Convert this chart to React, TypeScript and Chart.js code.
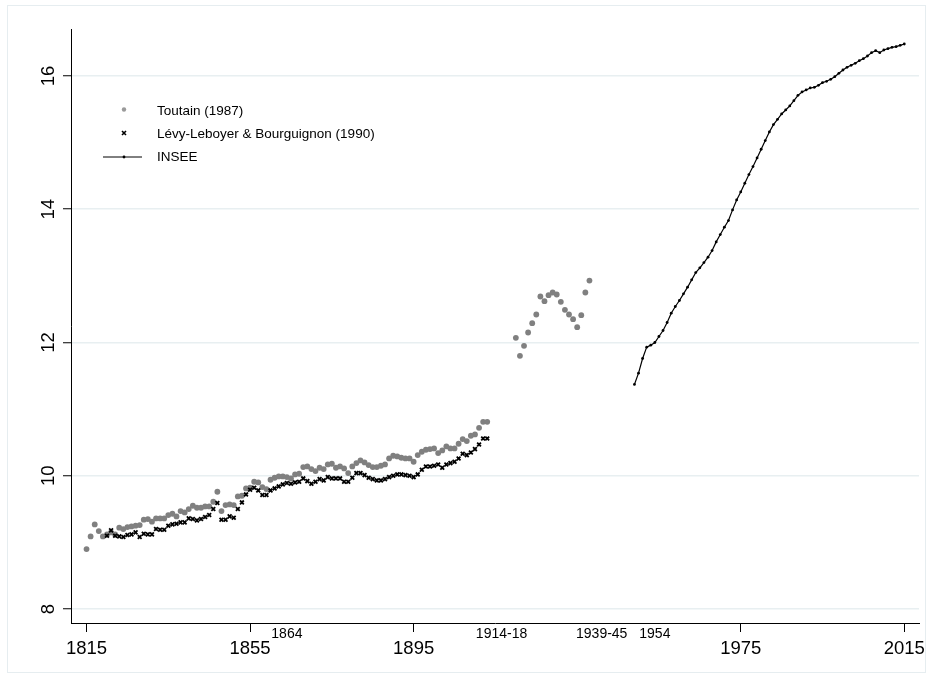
import React, { useEffect, useRef } from "react";
import { Chart, registerables } from "chart.js";

Chart.register(...registerables);

// Toutain (1987), annual, 1815-1913
const TOUTAIN_PRE_START = 1815;
const toutainPre = [
  8.9, 9.09, 9.27, 9.17, 9.09, 9.12, 9.15, 9.12, 9.22, 9.2,
  9.23, 9.24, 9.25, 9.26, 9.34, 9.35, 9.31, 9.36, 9.36, 9.36,
  9.41, 9.43, 9.39, 9.47, 9.45, 9.5, 9.55, 9.52, 9.52, 9.54,
  9.54, 9.61, 9.76, 9.47, 9.56, 9.57, 9.56, 9.69, 9.7, 9.81,
  9.82, 9.91, 9.9, 9.83, 9.8, 9.94, 9.97, 9.99, 9.99, 9.98,
  9.96, 10.02, 10.03, 10.13, 10.14, 10.1, 10.07, 10.12, 10.1, 10.17,
  10.18, 10.12, 10.14, 10.11, 10.04, 10.14, 10.19, 10.23, 10.2, 10.16,
  10.13, 10.13, 10.15, 10.17, 10.26, 10.3, 10.29, 10.27, 10.26, 10.26,
  10.21, 10.31, 10.36, 10.39, 10.4, 10.41, 10.34, 10.38, 10.44, 10.41,
  10.41, 10.48, 10.55, 10.52, 10.6, 10.62, 10.72, 10.81, 10.81,
];

// Toutain (1987), interwar years 1920-1938
const TOUTAIN_INTERWAR_START = 1920;
const toutainInterwar = [
  12.07, 11.8, 11.95, 12.15, 12.29, 12.42, 12.69, 12.62, 12.71, 12.75,
  12.72, 12.61, 12.49, 12.42, 12.35, 12.23, 12.41, 12.75, 12.93,
];

// Lévy-Leboyer & Bourguignon (1990), 1820-1913
const LEVY_START = 1820;
const levyLeboyer = [
  9.1, 9.18, 9.1, 9.09, 9.08, 9.11, 9.12, 9.15, 9.08, 9.13,
  9.12, 9.12, 9.2, 9.19, 9.19, 9.25, 9.27, 9.28, 9.3, 9.3,
  9.36, 9.35, 9.33, 9.35, 9.38, 9.41, 9.5, 9.59, 9.34, 9.34,
  9.39, 9.37, 9.5, 9.6, 9.72, 9.79, 9.82, 9.78, 9.71, 9.71,
  9.78, 9.81, 9.84, 9.87, 9.89, 9.88, 9.9, 9.91, 9.96, 9.92,
  9.88, 9.91, 9.95, 9.93, 9.98, 9.96, 9.96, 9.96, 9.91, 9.91,
  9.97, 10.04, 10.04, 10.01, 9.97, 9.95, 9.93, 9.93, 9.95, 9.98,
  10.0, 10.02, 10.02, 10.01, 10.0, 9.98, 10.02, 10.09, 10.14, 10.14,
  10.15, 10.17, 10.12, 10.17, 10.19, 10.21, 10.26, 10.33, 10.31, 10.35,
  10.4, 10.47, 10.56, 10.56,
];

// INSEE, 1949-2015
const INSEE_START = 1949;
const insee = [
  11.37, 11.54, 11.76, 11.93, 11.96, 12.0, 12.09, 12.18, 12.3, 12.44,
  12.54, 12.63, 12.73, 12.83, 12.94, 13.05, 13.12, 13.2, 13.28, 13.38,
  13.51, 13.62, 13.73, 13.83, 13.99, 14.14, 14.26, 14.39, 14.52, 14.64,
  14.77, 14.9, 15.03, 15.16, 15.27, 15.35, 15.43, 15.49, 15.55, 15.63,
  15.71, 15.76, 15.79, 15.82, 15.83, 15.86, 15.9, 15.92, 15.95, 15.99,
  16.04, 16.09, 16.13, 16.16, 16.19, 16.23, 16.26, 16.3, 16.35, 16.38,
  16.35, 16.39, 16.41, 16.43, 16.44, 16.46, 16.48,
];

const xMajorTicks = [1815, 1855, 1895, 1975, 2015];
const xMinorLabels = ["1864", "1914-18", "1939-45", "1954"];
const xMinorAt = [1864, 1916.5, 1941, 1954];
const yTicks = [8, 10, 12, 14, 16];
const seriesNames = ["Toutain (1987)", "Lévy-Leboyer & Bourguignon (1990)", "INSEE"];

const FONT = "'Liberation Sans', Arial, Helvetica, sans-serif";
const GRAY = "#808080";
const GRID = "#E8EFF1";

const toPoints = (start: number, values: number[]) =>
  values.map((v, i) => ({ x: start + i, y: v }));

const crossMark = (ctx: CanvasRenderingContext2D, cx: number, cy: number, r: number) => {
  ctx.beginPath();
  ctx.moveTo(cx - r, cy - r);
  ctx.lineTo(cx + r, cy + r);
  ctx.moveTo(cx + r, cy - r);
  ctx.lineTo(cx - r, cy + r);
  ctx.stroke();
};

const decorations = {
  id: "decorations",
  beforeDraw(chart: any) {
    const ctx: CanvasRenderingContext2D = chart.ctx;
    ctx.save();
    ctx.fillStyle = "#ffffff";
    ctx.fillRect(0, 0, chart.width, chart.height);
    ctx.strokeStyle = "#E6EDF0";
    ctx.lineWidth = 1;
    ctx.strokeRect(7.5, 5.5, 918, 667);
    ctx.restore();
  },
  afterDraw(chart: any) {
    const ctx: CanvasRenderingContext2D = chart.ctx;
    const xs = chart.scales.x;
    const ys = chart.scales.y;
    ctx.save();
    ctx.fillStyle = "#000";

    // y tick labels, rotated to read upwards
    ctx.font = `18.5px ${FONT}`;
    ctx.textAlign = "center";
    ctx.textBaseline = "alphabetic";
    yTicks.forEach((v) => {
      const py = ys.getPixelForValue(v);
      ctx.save();
      ctx.translate(53.5, py);
      ctx.rotate(-Math.PI / 2);
      ctx.fillText(String(v), 0, 0);
      ctx.restore();
    });

    // x tick labels
    xMajorTicks.forEach((yr) => {
      ctx.fillText(String(yr), xs.getPixelForValue(yr), 654);
    });
    ctx.font = `14px ${FONT}`;
    xMinorLabels.forEach((t, i) => {
      ctx.fillText(t, xs.getPixelForValue(xMinorAt[i]), 638);
    });

    // legend
    const mx = 124;
    const rows = [109.5, 133, 156.5];
    ctx.fillStyle = "#9a9a9a";
    ctx.beginPath();
    ctx.arc(mx, rows[0], 2.2, 0, Math.PI * 2);
    ctx.fill();
    ctx.strokeStyle = "#000";
    ctx.lineWidth = 1.6;
    crossMark(ctx, mx, rows[1], 2);
    ctx.lineWidth = 1;
    ctx.beginPath();
    ctx.moveTo(103, rows[2] + 0.5);
    ctx.lineTo(142, rows[2] + 0.5);
    ctx.stroke();
    ctx.fillStyle = "#000";
    ctx.beginPath();
    ctx.arc(mx, rows[2] + 0.5, 1.4, 0, Math.PI * 2);
    ctx.fill();

    ctx.font = `13.5px ${FONT}`;
    ctx.textAlign = "left";
    const baselines = [114.5, 138, 161];
    seriesNames.forEach((name, i) => ctx.fillText(name, 157, baselines[i]));
    ctx.restore();
  },
};

export default function App() {
  const canvasRef = useRef<HTMLCanvasElement | null>(null);

  useEffect(() => {
    if (!canvasRef.current) return;
    const chart = new Chart(canvasRef.current, {
      type: "scatter",
      data: {
        datasets: [
          {
            label: seriesNames[1],
            data: toPoints(LEVY_START, levyLeboyer),
            pointStyle: "crossRot",
            pointRadius: 2.7,
            borderWidth: 1.8,
            borderColor: "#000",
            backgroundColor: "#000",
            showLine: false,
            order: 0,
          },
          {
            label: seriesNames[0],
            data: [
              ...toPoints(TOUTAIN_PRE_START, toutainPre),
              ...toPoints(TOUTAIN_INTERWAR_START, toutainInterwar),
            ],
            pointStyle: "circle",
            pointRadius: 2.9,
            borderWidth: 0,
            backgroundColor: GRAY,
            borderColor: GRAY,
            showLine: false,
            order: 1,
          },
          {
            label: seriesNames[2],
            data: toPoints(INSEE_START, insee),
            showLine: true,
            borderColor: "#000",
            borderWidth: 1.2,
            backgroundColor: "#000",
            pointRadius: 1.4,
            pointBorderWidth: 0,
            tension: 0,
            order: 2,
          },
        ],
      },
      options: {
        animation: false,
        responsive: false,
        devicePixelRatio: 1,
        layout: { padding: { left: 0, top: 29, right: 13, bottom: 0 } },
        plugins: {
          legend: { display: false },
          tooltip: { enabled: false },
        },
        scales: {
          x: {
            type: "linear",
            min: 1811.2,
            max: 2018.6,
            afterBuildTicks: (scale: any) => {
              scale.ticks = xMajorTicks.map((v) => ({ value: v }));
            },
            afterFit: (scale: any) => {
              scale.height = 56;
            },
            ticks: { display: false },
            grid: {
              drawOnChartArea: false,
              drawTicks: true,
              tickLength: 9,
              tickColor: "#000",
              tickWidth: 1,
            },
            border: { display: true, color: "#000", width: 1 },
          },
          y: {
            type: "linear",
            min: 7.79,
            max: 16.705,
            afterBuildTicks: (scale: any) => {
              scale.ticks = yTicks.map((v) => ({ value: v }));
            },
            afterFit: (scale: any) => {
              scale.width = 71;
            },
            ticks: { display: false },
            grid: {
              color: GRID,
              lineWidth: 1.5,
              drawTicks: true,
              tickLength: 8,
              tickColor: "#000",
              tickWidth: 1,
            },
            border: { display: true, color: "#000", width: 1 },
          },
        },
      },
      plugins: [decorations],
    });
    return () => chart.destroy();
  }, []);

  return (
    <div style={{ position: "fixed", left: 0, top: 0, width: 932, height: 679, background: "#fff" }}>
      <canvas ref={canvasRef} width={932} height={679} style={{ display: "block" }} />
    </div>
  );
}
